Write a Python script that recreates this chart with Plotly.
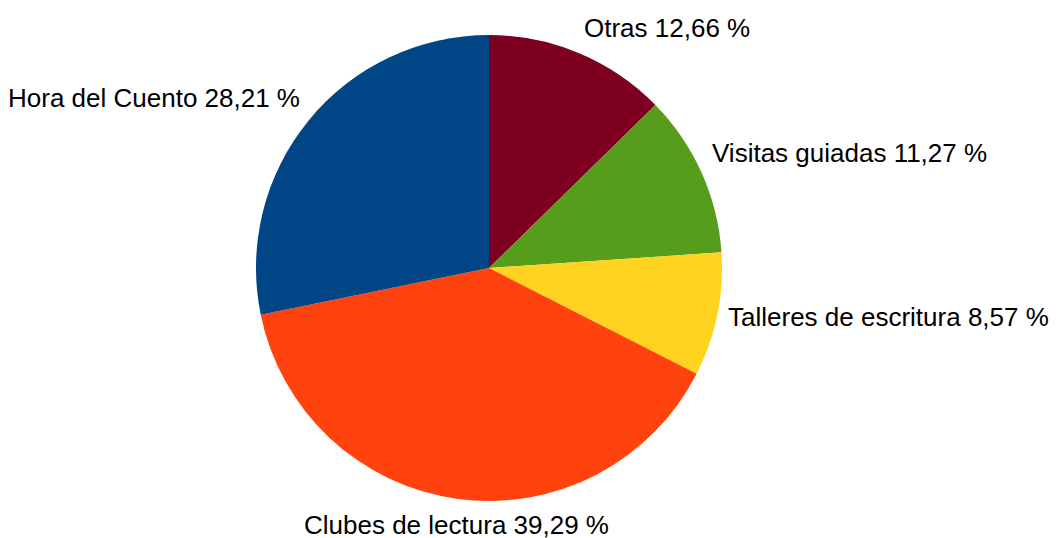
import math
import plotly.graph_objects as go

# Categories and shares (percent), clockwise from 12 o'clock
categories = ["Otras", "Visitas guiadas", "Talleres de escritura", "Clubes de lectura", "Hora del Cuento"]
shares = [12.66, 11.27, 8.57, 39.29, 28.21]
colors = ["#7E0021", "#579D1C", "#FFD320", "#FF420E", "#004586"]

labels_text = [f"{c} {v:.2f}".replace(".", ",") + " %" for c, v in zip(categories, shares)]

W, H = 1059, 538
# pie centre / radius in figure pixels (page body adds an 8px margin)
CX, CY, R = 481, 260, 233
LABEL_R = R + 10            # labels sit just outside the rim

fig = go.Figure(
    go.Pie(
        labels=categories,
        values=shares,
        textinfo="none",
        sort=False,
        direction="clockwise",
        rotation=0,
        marker=dict(colors=colors, line=dict(width=0)),
        domain=dict(x=[(CX - R) / W, (CX + R) / W], y=[1 - (CY + R) / H, 1 - (CY - R) / H]),
        showlegend=False,
        hoverinfo="label+percent",
    )
)

# outside labels, anchored at each slice's mid angle
total = sum(shares)
cum = 0
for txt, v in zip(labels_text, shares):
    theta = 2 * math.pi * (cum + v / 2) / total
    cum += v
    s, c = math.sin(theta), math.cos(theta)
    xa = "left" if s > 0.2 else ("right" if s < -0.2 else "center")
    ya = "bottom" if c > 0.3 else ("top" if c < -0.3 else "middle")
    fig.add_annotation(
        x=(CX + LABEL_R * s) / W,
        y=1 - (CY - LABEL_R * c) / H,
        xref="paper", yref="paper",
        text=txt, showarrow=False,
        xanchor=xa, yanchor=ya,
        font=dict(family="Liberation Sans", size=26, color="black"),
        borderpad=0,
    )

fig.update_layout(
    width=W,
    height=H,
    margin=dict(l=0, r=0, t=0, b=0),
    paper_bgcolor="white",
    plot_bgcolor="white",
)

fig.write_html("out.html")
